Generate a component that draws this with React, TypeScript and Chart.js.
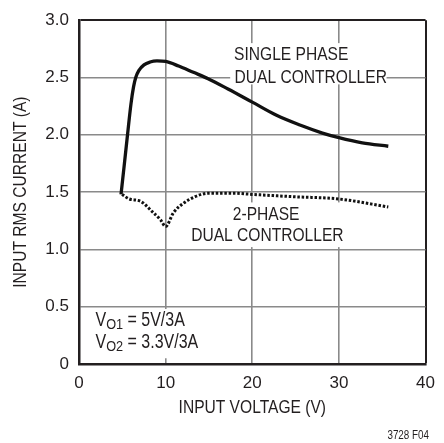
import React, { useEffect, useRef } from "react";
import { Chart, registerables } from "chart.js";

Chart.register(...registerables);

const singleX = [4.85, 5.2, 5.6, 6.0, 6.3, 6.55, 6.9, 7.5, 8.2, 9.0, 10, 11.5, 13.2, 14.9, 17.2, 20, 22.8, 25.5, 28.1, 30, 32.7, 35.7];
const singleY = [1.48, 1.72, 2.0, 2.27, 2.42, 2.5, 2.56, 2.61, 2.635, 2.645, 2.64, 2.6, 2.545, 2.49, 2.4, 2.285, 2.17, 2.085, 2.015, 1.975, 1.93, 1.9];

const twoPhaseX = [4.97, 5.8, 7.1, 8.45, 9.4, 10, 10.9, 12, 13.4, 14.9, 17.9, 20, 24.7, 30, 35.7];
const twoPhaseY = [1.48, 1.44, 1.42, 1.33, 1.26, 1.2, 1.32, 1.4, 1.46, 1.49, 1.49, 1.48, 1.46, 1.44, 1.37];

const xTicks = [0, 10, 20, 30, 40];
const yTicks = [0, 0.5, 1.0, 1.5, 2.0, 2.5, 3.0];

const xTitle = "INPUT VOLTAGE (V)";
const yTitle = "INPUT RMS CURRENT (A)";
const upperLabel = ["SINGLE PHASE", "DUAL CONTROLLER"];
const lowerLabel = ["2-PHASE", "DUAL CONTROLLER"];
const noteLines = [
  ["V", "O1", " = 5V/3A"],
  ["V", "O2", " = 3.3V/3A"],
];
const figId = "3728 F04";

const REG = '"Liberation Sans", Arial, sans-serif';
const INK = "#231f20";
const GRID = "#8a8a8a";
const SQ = 0.82;

function narrow(ctx: CanvasRenderingContext2D, text: string, x: number, y: number, size: number) {
  ctx.save();
  ctx.font = `${size}px ${REG}`;
  ctx.translate(x, y);
  ctx.scale(SQ, 1);
  ctx.fillText(text, 0, 0);
  const w = ctx.measureText(text).width * SQ;
  ctx.restore();
  return w;
}

function narrowW(ctx: CanvasRenderingContext2D, text: string, size: number) {
  ctx.save();
  ctx.font = `${size}px ${REG}`;
  const w = ctx.measureText(text).width * SQ;
  ctx.restore();
  return w;
}

const annotPlugin = {
  id: "annot",
  beforeDatasetsDraw(chart: any) {
    const ctx = chart.ctx as CanvasRenderingContext2D;
    const xs = chart.scales.x;
    const ys = chart.scales.y;
    ctx.save();
    ctx.fillStyle = "#ffffff";
    const box = (x0: number, y0: number, x1: number, y1: number) => {
      const a = xs.getPixelForValue(x0), b = xs.getPixelForValue(x1);
      const c = ys.getPixelForValue(y0), d = ys.getPixelForValue(y1);
      ctx.fillRect(Math.min(a, b), Math.min(c, d), Math.abs(b - a), Math.abs(d - c));
    };
    box(17.45, 2.44, 35.5, 2.8);
    box(12.6, 1.02, 30.8, 1.41);
    box(0.25, 0.05, 14.3, 0.48);

    ctx.fillStyle = INK;
    ctx.textBaseline = "middle";
    ctx.textAlign = "left";
    narrow(ctx, upperLabel[0], xs.getPixelForValue(17.9), ys.getPixelForValue(2.7), 19);
    narrow(ctx, upperLabel[1], xs.getPixelForValue(17.95), ys.getPixelForValue(2.5), 19);
    narrow(ctx, lowerLabel[0], xs.getPixelForValue(17.75), ys.getPixelForValue(1.3), 19);
    narrow(ctx, lowerLabel[1], xs.getPixelForValue(12.95), ys.getPixelForValue(1.12), 19);

    const noteY = [0.38, 0.19];
    noteLines.forEach((parts, i) => {
      let x = xs.getPixelForValue(1.9);
      const y = ys.getPixelForValue(noteY[i]);
      x += narrow(ctx, parts[0], x, y, 19.5);
      x += narrow(ctx, parts[1], x, y + 4, 15.5);
      narrow(ctx, parts[2], x, y, 19.5);
    });
    ctx.restore();
  },
  afterDraw(chart: any) {
    const ctx = chart.ctx as CanvasRenderingContext2D;
    const area = chart.chartArea;
    ctx.save();
    ctx.fillStyle = INK;
    ctx.textBaseline = "middle";
    ctx.textAlign = "left";
    const wx = narrowW(ctx, xTitle, 19);
    narrow(ctx, xTitle, (area.left + area.right) / 2 - wx / 2, 408, 19);
    const wy = narrowW(ctx, yTitle, 19);
    ctx.translate(21, (area.top + area.bottom) / 2);
    ctx.rotate(-Math.PI / 2);
    narrow(ctx, yTitle, -wy / 2, 0, 19);
    ctx.restore();
    ctx.save();
    ctx.fillStyle = INK;
    ctx.textAlign = "left";
    ctx.textBaseline = "middle";
    const wf = narrowW(ctx, figId, 12);
    narrow(ctx, figId, 429 - wf, 436, 12);
    ctx.restore();
  },
};

export default function App() {
  const ref = useRef<HTMLCanvasElement | null>(null);
  useEffect(() => {
    if (!ref.current) return;
    const chart = new Chart(ref.current, {
      type: "line",
      data: {
        datasets: [
          {
            label: "Single phase",
            data: singleX.map((x, i) => ({ x, y: singleY[i] })),
            borderColor: "#111111",
            borderWidth: 3.3,
            pointRadius: 0,
            cubicInterpolationMode: "monotone",
            fill: false,
          },
          {
            label: "2-phase",
            data: twoPhaseX.map((x, i) => ({ x, y: twoPhaseY[i] })),
            borderColor: "#111111",
            borderWidth: 3,
            borderDash: [2.5, 1.8],
            pointRadius: 0,
            cubicInterpolationMode: "monotone",
            fill: false,
          },
        ],
      },
      options: {
        animation: false,
        responsive: false,
        devicePixelRatio: 1,
        layout: { padding: { left: 0, top: 13, right: 13, bottom: 0 } },
        plugins: { legend: { display: false }, tooltip: { enabled: false } },
        scales: {
          x: {
            type: "linear",
            min: 0,
            max: 40,
            afterBuildTicks: (s: any) => {
              s.ticks = xTicks.map((v) => ({ value: v }));
            },
            afterFit: (s: any) => {
              s.height = 79;
            },
            ticks: {
              color: INK,
              font: { family: REG, size: 17 },
              padding: 9,
              maxRotation: 0,
              callback: (v: any) => String(v),
            },
            grid: {
              drawTicks: false,
              color: (c: any) => (c.tick && c.tick.value === 40 ? INK : GRID),
              lineWidth: (c: any) => (c.tick && c.tick.value === 40 ? 2 : 1.6),
            },
            border: { display: true, color: INK, width: 2.5 },
          },
          y: {
            type: "linear",
            min: 0,
            max: 3,
            afterBuildTicks: (s: any) => {
              s.ticks = yTicks.map((v) => ({ value: v }));
            },
            afterFit: (s: any) => {
              s.width = 79;
            },
            ticks: {
              color: INK,
              font: { family: REG, size: 17 },
              padding: 10,
              callback: (v: any) => (v === 0 ? "0" : Number(v).toFixed(1)),
            },
            grid: {
              drawTicks: false,
              color: (c: any) => (c.tick && c.tick.value === 3 ? INK : GRID),
              lineWidth: (c: any) => (c.tick && c.tick.value === 3 ? 2 : 1.6),
            },
            border: { display: true, color: INK, width: 2.5 },
          },
        },
      },
      plugins: [annotPlugin],
    } as any);
    return () => chart.destroy();
  }, []);
  return (
    <div style={{ position: "absolute", left: 0, top: 0, width: 444, height: 443, background: "#fff" }}>
      <canvas ref={ref} width={444} height={443} style={{ width: 444, height: 443, display: "block" }} />
    </div>
  );
}
